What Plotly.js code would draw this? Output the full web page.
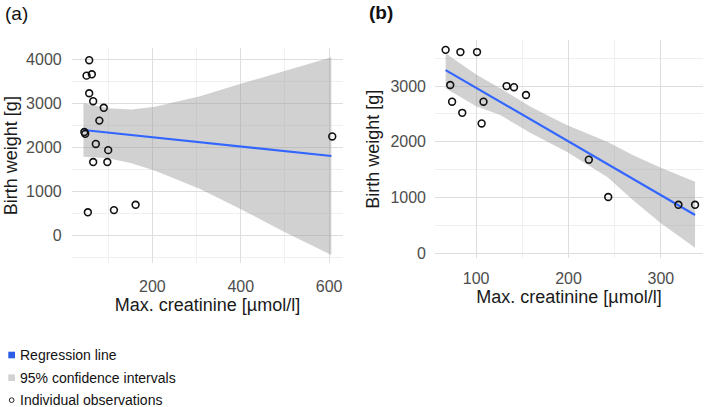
<!DOCTYPE html>
<html><head><meta charset="utf-8">
<script src="https://cdn.plot.ly/plotly-3.0.1.min.js"></script>
<style>html,body{margin:0;padding:0;background:#fff}#chart{width:708px;height:407px}</style>
</head><body><div id="chart"></div>
<script>
// ---- Panel (a) ----
const creatA  = [57, 51, 63, 57, 66, 90, 80, 46, 48, 72, 100, 66, 98, 54, 113, 162, 607];
const weightA = [3980, 3630, 3660, 3230, 3050, 2900, 2610, 2350, 2310, 2080, 1940, 1670, 1670, 530, 580, 700, 2250];
const fitXA   = [44, 605];
const fitYA   = [2397, 1807];
const bandXA  = [44, 100, 153, 206, 251, 308, 398, 500, 605];
const bandUpA = [3002, 2889, 2860, 2925, 3030, 3160, 3440, 3730, 4045];
const bandLoA = [1791, 1755, 1640, 1470, 1290, 1060, 610, 80, -440];

// ---- Panel (b) ----
const creatB  = [67, 83, 101, 72, 74, 85, 108, 106, 133, 141, 154, 222, 243, 319, 337];
const weightB = [3650, 3610, 3610, 3020, 2720, 2520, 2720, 2330, 3000, 2980, 2840, 1680, 1010, 870, 870];
const fitXB   = [67, 337];
const fitYB   = [3287, 687];
const bandXB  = [67, 100, 126, 160, 198, 242, 270, 300, 337];
const bandUpB = [3590, 3210, 2960, 2620, 2300, 2000, 1760, 1535, 1284];
const bandLoB = [2960, 2640, 2480, 2150, 1820, 1370, 950, 540, 101];

// ---- Text ----
const panelLabels = ['(a)', '(b)'];
const xTitle = 'Max. creatinine [µmol/l]';
const yTitle = 'Birth weight [g]';
const legendItems = ['Regression line', '95% confidence intervals', 'Individual observations'];

const W = 708, H = 407;
const px = v => v / W, py = v => 1 - v / H;
const FONT = 'Liberation Sans, Arial, sans-serif';
const BLUE = '#3366ff';
const BANDFILL = 'rgba(153,153,153,0.45)';

function panelTraces(xa, ya, bx, bu, bl, fx, fy, cx, cy) {
  return [
    {x: bx, y: bl, mode: 'lines', line: {width: 0, color: 'rgba(0,0,0,0)'},
     xaxis: xa, yaxis: ya, showlegend: false, hoverinfo: 'skip'},
    {x: bx, y: bu, mode: 'lines', line: {width: 0, color: 'rgba(0,0,0,0)'},
     fill: 'tonexty', fillcolor: BANDFILL, xaxis: xa, yaxis: ya, showlegend: false, hoverinfo: 'skip'},
    {x: fx, y: fy, mode: 'lines', line: {width: 2.2, color: BLUE}, xaxis: xa, yaxis: ya, showlegend: false},
    {x: cx, y: cy, mode: 'markers', marker: {symbol: 'circle-open', size: 6.8, color: '#111', line: {width: 1.6}},
     xaxis: xa, yaxis: ya, showlegend: false}
  ];
}

const data = [
  ...panelTraces('x', 'y', bandXA, bandUpA, bandLoA, fitXA, fitYA, creatA, weightA),
  ...panelTraces('x2', 'y2', bandXB, bandUpB, bandLoB, fitXB, fitYB, creatB, weightB)
];

const gridMajor = '#dedede', gridMinor = '#ececec';
function axis(extra) {
  return Object.assign({
    showgrid: true, gridcolor: gridMajor, gridwidth: 1.1,
    zeroline: false, showline: false, ticks: '',
    tickfont: {family: FONT, size: 16, color: '#4d4d4d'},
    fixedrange: true
  }, extra);
}

const layout = {
  width: W, height: H,
  margin: {l: 0, r: 0, t: 0, b: 0},
  paper_bgcolor: '#fff', plot_bgcolor: '#fff',
  font: {family: FONT, color: '#1a1a1a'},
  showlegend: false,
  xaxis: axis({domain: [px(71.7), px(343.3)], range: [17.4, 632], anchor: 'y', tick0: 0, dtick: 200,
    minor: {tick0: 0, dtick: 100, showgrid: true, gridcolor: gridMinor, gridwidth: 0.8},
    ticklabelstandoff: 12,
    title: {text: xTitle, font: {family: FONT, size: 18, color: '#1a1a1a'}, standoff: 4}}),
  yaxis: axis({domain: [py(263), py(48.3)], range: [-620, 4250], anchor: 'x', tick0: 0, dtick: 1000,
    minor: {tick0: 0, dtick: 500, showgrid: true, gridcolor: gridMinor, gridwidth: 0.8},
    ticklabelstandoff: 9,
    title: {text: yTitle, font: {family: FONT, size: 18, color: '#1a1a1a'}, standoff: 3}}),
  xaxis2: axis({domain: [px(435), px(703)], range: [55.5, 345.6], anchor: 'y2', tick0: 0, dtick: 100,
    minor: {tick0: 0, dtick: 50, showgrid: true, gridcolor: gridMinor, gridwidth: 0.8},
    ticklabelstandoff: 9,
    title: {text: xTitle, font: {family: FONT, size: 18, color: '#1a1a1a'}, standoff: 4}}),
  yaxis2: axis({domain: [py(258.3), py(40)], range: [-90, 3827], anchor: 'x2', tick0: 0, dtick: 1000,
    minor: {tick0: 0, dtick: 500, showgrid: true, gridcolor: gridMinor, gridwidth: 0.8},
    ticklabelstandoff: 8,
    title: {text: yTitle, font: {family: FONT, size: 18, color: '#1a1a1a'}, standoff: 6}}),
  annotations: [
    {text: panelLabels[0], xref: 'paper', yref: 'paper', x: px(3), y: py(14), xanchor: 'left', yanchor: 'middle',
     showarrow: false, font: {family: FONT, size: 19, color: '#111'}},
    {text: '<b>' + panelLabels[1] + '</b>', xref: 'paper', yref: 'paper', x: px(367), y: py(13), xanchor: 'left', yanchor: 'middle',
     showarrow: false, font: {family: FONT, size: 19, color: '#111'}},
    ...legendItems.map((t, i) => ({text: t, xref: 'paper', yref: 'paper', x: px(18), y: py([355, 377.5, 399.5][i]),
      xanchor: 'left', yanchor: 'middle', showarrow: false, font: {family: FONT, size: 14, color: '#111'}}))
  ],
  shapes: [
    {type: 'rect', xref: 'paper', yref: 'paper', x0: px(8.3), x1: px(15), y0: py(358.3), y1: py(351.7),
     fillcolor: '#2b5ce6', line: {width: 0}},
    {type: 'rect', xref: 'paper', yref: 'paper', x0: px(8.3), x1: px(15), y0: py(381), y1: py(374.4),
     fillcolor: '#d2d2d2', line: {width: 0}},
    {type: 'circle', xref: 'paper', yref: 'paper', x0: px(9.3), x1: px(14), y0: py(402.5), y1: py(397.8),
     fillcolor: '#fff', line: {width: 1, color: '#222'}}
  ]
};

Plotly.newPlot('chart', data, layout, {displayModeBar: false, staticPlot: true});
</script></body></html>
